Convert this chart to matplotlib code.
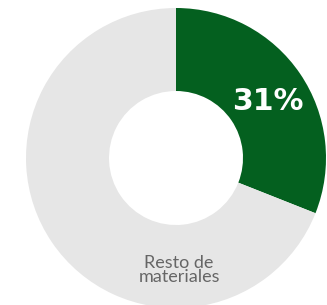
import matplotlib
matplotlib.use("Agg")
import matplotlib.pyplot as plt

# --- DATA ---
labels = ["Material destacado", "Resto de\nmateriales"]
values = [31, 69]
colors = ["#04601f", "#e6e6e6"]
pct_label = "31%"

W, H = 327, 305
fig = plt.figure(figsize=(W / 100, H / 100), dpi=100)
ax = fig.add_axes([0, 0, 1, 1])

# donut: green slice from 12 o'clock, clockwise
cx, cy = 176, H - 158
ax.pie(values, colors=colors, startangle=90, counterclock=False,
       center=(cx, cy), radius=150, frame=True,
       wedgeprops=dict(width=83, edgecolor="none"))
ax.set_xlim(0, W)
ax.set_ylim(0, H)
ax.set_aspect("equal")
ax.axis("off")

ax.text(268, H - 102, pct_label, color="white", fontsize=21.5, fontweight="bold",
        ha="center", va="center", family="DejaVu Sans")
ax.text(179, H - 270, labels[1], color="#666666", fontsize=13,
        ha="center", va="center", linespacing=0.85, family="Lato")

fig.savefig("out.png", dpi=100)
